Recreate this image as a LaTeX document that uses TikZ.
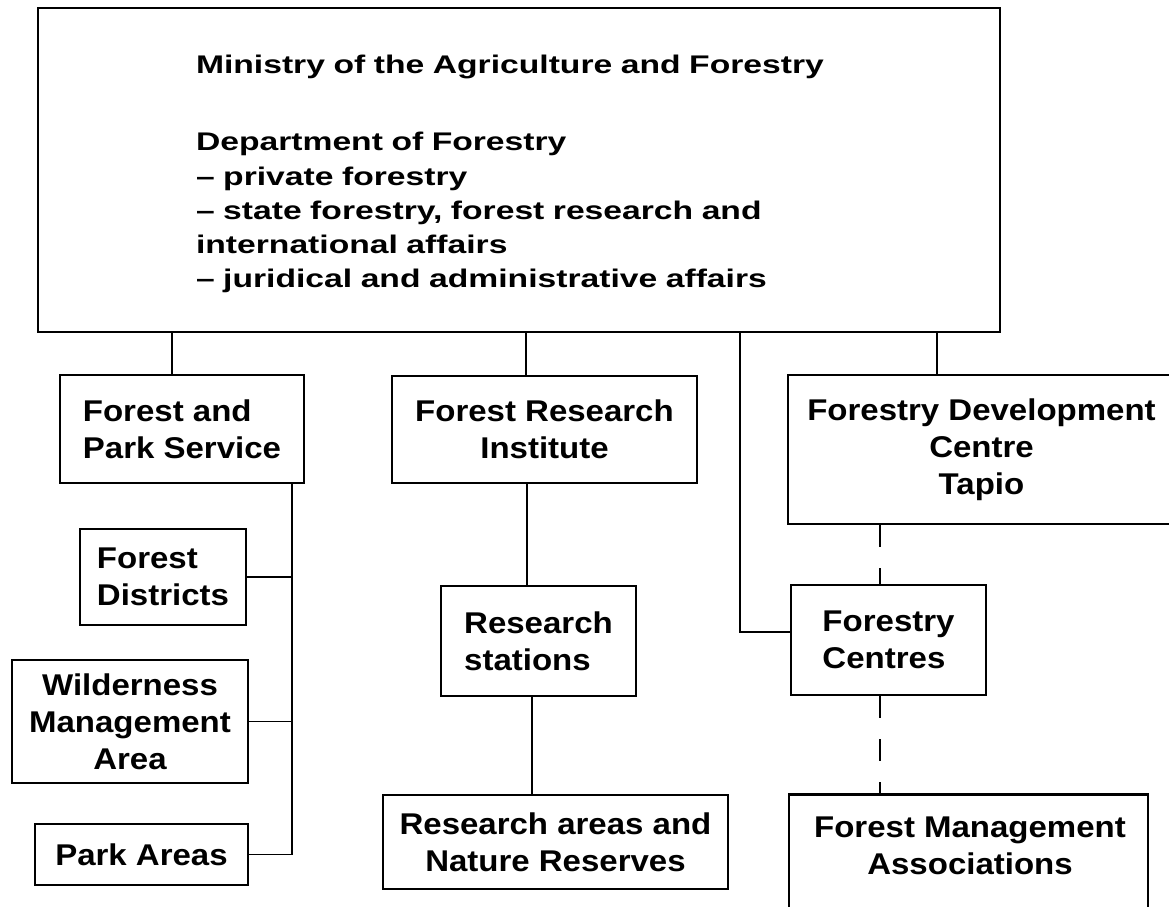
\documentclass[tikz,border=0pt]{standalone}
\usepackage{fontspec}
\newfontfamily\ministryfont[FakeStretch=1.32]{Liberation Sans}
\newfontfamily\boxfont[FakeStretch=1.10]{Liberation Sans}
\begin{document}
\begin{tikzpicture}[x=1pt,y=-1pt,
  box/.style={draw, rectangle, line width=2.6pt, inner sep=0pt, align=center,
    font=\boxfont\bfseries\fontsize{30}{37}\selectfont},
  lbox/.style={box, align=left},
  btext/.style={inner sep=0pt, align=center, font=\boxfont\bfseries\fontsize{30}{37}\selectfont},
  conn/.style={line width=1.8pt},
  dconn/.style={conn, dash pattern=on 22pt off 21pt}]
\useasboundingbox (0,0) rectangle (1169,906);
\fill[white] (0,0) rectangle (1169,906);
\clip (0,0) rectangle (1169,906);

% boxes
\node[box, minimum width=962pt, minimum height=324pt, align=left, text width=646pt,
  font=\ministryfont\bfseries\fontsize{25.5}{34.3}\selectfont] (main) at (519,170)
  {\rule{0pt}{27pt}Ministry of the Agriculture and Forestry\\[42.7pt]
   Department of Forestry\\
   – private forestry\\
   – state forestry, forest research and\\
   international affairs\\
   – juridical and administrative affairs};

\node[lbox, minimum width=244pt, minimum height=108pt] (fps) at (182,429) {Forest and\\Park Service};
\node[lbox, minimum width=166pt, minimum height=96pt] (fd) at (163,577) {Forest\\Districts};
\node[box, minimum width=236pt, minimum height=123pt] (wma) at (130,721.5) {Wilderness\\Management\\Area};
\node[box, minimum width=213pt, minimum height=61pt] (pa) at (141.5,854.5) {Park Areas};

\node[box, minimum width=305pt, minimum height=107pt] (fri) at (544.5,429.5) {Forest Research\\Institute};
\node[lbox, minimum width=195pt, minimum height=110pt] (rs) at (538.5,641) {Research\\stations};
\node[box, minimum width=345pt, minimum height=94pt] (ra) at (555.5,842) {Research areas and\\Nature Reserves};

\node[box, minimum width=387pt, minimum height=149pt] (tapio) at (981.5,449.5) {Forestry Development\\Centre\\Tapio};
\node[lbox, minimum width=195pt, minimum height=110pt] (fc) at (888.5,640) {Forestry\\Centres};
\node[box, minimum width=359pt, minimum height=170pt, anchor=north] (fma) at (968.5,793) {};
\node[btext, anchor=north] (fmatext) at (970,816.5) {Forest Management\\Associations};

% connector positions
\coordinate (a1) at (172,0);
\coordinate (a2) at (526,0);
\coordinate (a3) at (740,0);
\coordinate (a3y) at (0,632);
\coordinate (a4) at (937,0);
\coordinate (sp) at (292,0);
\coordinate (c1) at (527,0);
\coordinate (c2) at (532,0);
\coordinate (d1) at (880,0);

% connectors
\draw[conn] (a1 |- main.south) -- (a1 |- fps.north);
\draw[conn] (a2 |- main.south) -- (a2 |- fri.north);
\draw[conn] (a3 |- main.south) -- (a3 |- a3y) -- (fc.west |- a3y);
\draw[conn] (a4 |- main.south) -- (a4 |- tapio.north);

\draw[conn] (sp |- fps.south) -- (sp |- pa.east) -- (pa.east);
\draw[conn] (fd.east) -- (fd.east -| sp);
\draw[conn] (wma.east) -- (wma.east -| sp);

\draw[conn] (c1 |- fri.south) -- (c1 |- rs.north);
\draw[conn] (c2 |- rs.south) -- (c2 |- ra.north);

\draw[dconn] (d1 |- tapio.south) -- (d1 |- fc.north);
\draw[dconn] (d1 |- fc.south) -- (d1 |- fma.north);
\end{tikzpicture}
\end{document}
